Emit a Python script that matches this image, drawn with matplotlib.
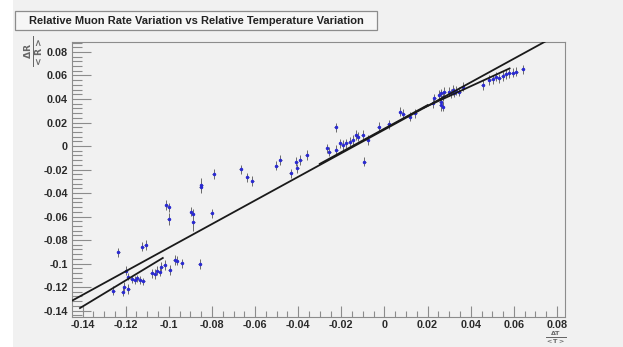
"""
relative muon rate variation vs relative temperature variation.
root-style scatter with error bars and fitted lines, redrawn in matplotlib.
"""
import matplotlib
matplotlib.use("Agg")
import matplotlib.pyplot as plt
from matplotlib.patches import Rectangle
from matplotlib.ticker import MultipleLocator, FuncFormatter
import numpy as np

TITLE = "Relative Muon Rate Variation vs Relative Temperature Variation"

# dT/<T>
dT = [
    -0.1258, -0.1214, -0.1207, -0.1188, -0.1235, -0.1199, -0.1188, -0.1173, -0.1157, -0.1147,
    -0.1134, -0.1119, -0.1124, -0.1106, -0.1080, -0.1065, -0.1057, -0.1042, -0.1034, -0.1019,
    -0.0995, -0.0972, -0.0964, -0.0941, -0.0856,
    -0.1011, -0.1000, -0.1000, -0.0895, -0.0890, -0.0887, -0.0853, -0.0849, -0.0802, -0.0792,
    -0.0667, -0.0636, -0.0614,
    -0.0501, -0.0483, -0.0435, -0.0409, -0.0404, -0.0390, -0.0360, -0.0227, -0.0265, -0.0255,
    -0.0224, -0.0205, -0.0193, -0.0177, -0.0162, -0.0147, -0.0131, -0.0124, -0.0100, -0.0093,
    -0.0077, -0.0026, 0.0019, 0.0073, 0.0088, 0.0116, 0.0142, 0.0224, 0.0262, 0.0270,
    0.0231, 0.0255, 0.0262, 0.0270, 0.0262, 0.0278, 0.0301, 0.0309, 0.0316, 0.0324,
    0.0332, 0.0347, 0.0363, 0.0455, 0.0486, 0.0501, 0.0517, 0.0532, 0.0548, 0.0563,
    0.0579, 0.0594, 0.0610, 0.0640,
]
# dR/<R>
dR = [
    -0.1231, -0.1240, -0.1197, -0.1217, -0.0905, -0.1060, -0.1112, -0.1134, -0.1140, -0.1126,
    -0.1140, -0.1149, -0.0857, -0.0843, -0.1083, -0.1089, -0.1061, -0.1070, -0.1027, -0.1013,
    -0.1055, -0.0970, -0.0976, -0.0999, -0.1004,
    -0.0502, -0.0522, -0.0621, -0.0559, -0.0579, -0.0649, -0.0352, -0.0332, -0.0573, -0.0238,
    -0.0198, -0.0266, -0.0298,
    -0.0166, -0.0119, -0.0233, -0.0133, -0.0190, -0.0119, -0.0077, 0.0159, -0.0020, -0.0048,
    -0.0034, 0.0023, 0.0009, 0.0023, 0.0037, 0.0051, 0.0094, 0.0079, 0.0094, -0.0133,
    0.0051, 0.0165, 0.0185, 0.0292, 0.0272, 0.0249, 0.0278, 0.0363, 0.0377, 0.0334,
    0.0406, 0.0434, 0.0449, 0.0420, 0.0349, 0.0462, 0.0462, 0.0449, 0.0477, 0.0454,
    0.0471, 0.0462, 0.0505, 0.0519, 0.0562, 0.0568, 0.0590, 0.0576, 0.0596, 0.0613,
    0.0619, 0.0624, 0.0632, 0.0653,
]
dR_err = [
    0.004, 0.004, 0.004, 0.004, 0.004, 0.004, 0.003, 0.003, 0.003, 0.003,
    0.003, 0.003, 0.004, 0.004, 0.004, 0.004, 0.004, 0.004, 0.004, 0.004,
    0.004, 0.004, 0.004, 0.004, 0.004,
    0.004, 0.004, 0.005, 0.004, 0.004, 0.007, 0.005, 0.006, 0.004, 0.004,
    0.004, 0.004, 0.004,
    0.004, 0.004, 0.004, 0.004, 0.004, 0.004, 0.004, 0.004, 0.004, 0.004,
    0.004, 0.004, 0.004, 0.004, 0.004, 0.004, 0.004, 0.004, 0.004, 0.004,
    0.004, 0.004, 0.004, 0.004, 0.004, 0.004, 0.004, 0.004, 0.004, 0.004,
    0.004, 0.004, 0.004, 0.004, 0.005, 0.004, 0.004, 0.004, 0.004, 0.004,
    0.004, 0.004, 0.004, 0.004, 0.004, 0.004, 0.004, 0.004, 0.004, 0.004,
    0.004, 0.004, 0.004, 0.004,
]
dT_err = 0.0007

# fitted lines: (slope, intercept, x_start, x_end)
FITS = [
    (1.005, 0.0140, -0.1449, 0.0850),
    (1.11, -0.1379 + 1.11 * 0.1412, -0.1412, -0.1028),
    (1.00, 0.0148, -0.0300, 0.0200),
    (0.84, 0.0660 - 0.84 * 0.0580, 0.0180, 0.0580),
]

XLIM = (-0.1449, 0.0837)
YLIM = (-0.1455, 0.0885)

BG = "#f1f1f1"
FRAME = "#8c8c8c"
TXT = "#2b2b2b"

plt.rcParams["font.family"] = ["Liberation Sans", "DejaVu Sans"]

fig = plt.figure(figsize=(6.23, 3.47), dpi=100)
fig.patch.set_facecolor("white")
fig.patches.append(Rectangle((13 / 623, 0), 1, 1, transform=fig.transFigure,
                             facecolor=BG, edgecolor="none", zorder=-10))

ax = fig.add_axes([72 / 623, 1 - 317 / 347, (565 - 72) / 623, (317 - 42) / 347])
ax.set_facecolor(BG)
ax.set_xlim(*XLIM)
ax.set_ylim(*YLIM)

ax.errorbar(dT, dR, yerr=dR_err, xerr=dT_err, fmt=".", color="#2a2ad0",
            markersize=3, ecolor="#6a6a6a", elinewidth=0.7, capsize=0, zorder=3)

for slope, icpt, xa, xb in FITS:
    xs = np.array([xa, xb])
    ax.plot(xs, slope * xs + icpt, color="#1a1a1a", lw=1.3, zorder=4)

for s in ax.spines.values():
    s.set_color(FRAME)
    s.set_linewidth(0.8)

ax.xaxis.set_major_locator(MultipleLocator(0.02))
ax.xaxis.set_minor_locator(MultipleLocator(0.005))
ax.yaxis.set_major_locator(MultipleLocator(0.02))
ax.yaxis.set_minor_locator(MultipleLocator(0.004))

fmt = FuncFormatter(lambda v, p: "0" if abs(v) < 1e-9 else f"{v:g}")
ax.xaxis.set_major_formatter(fmt)
ax.yaxis.set_major_formatter(fmt)

ax.tick_params(axis="x", which="major", direction="in", length=8, width=0.8, color=FRAME,
               labelsize=7.8, labelcolor=TXT, pad=2)
ax.tick_params(axis="x", which="minor", direction="in", length=4, width=0.8, color=FRAME)
ax.tick_params(axis="y", which="major", direction="in", length=14, width=0.8, color=FRAME,
               labelsize=7.8, labelcolor=TXT, pad=3)
ax.tick_params(axis="y", which="minor", direction="in", length=7, width=0.8, color=FRAME)
for lab in ax.get_xticklabels() + ax.get_yticklabels():
    lab.set_fontweight("bold")

# title box
fig.patches.append(Rectangle((15 / 623, 1 - 30 / 347), 362 / 623, 19 / 347,
                             transform=fig.transFigure, facecolor="#f6f6f6",
                             edgecolor=FRAME, lw=0.9, zorder=5))
fig.text(196 / 623, 1 - 21 / 347, TITLE, ha="center", va="center", fontsize=8,
         fontweight="bold", color="#222222", zorder=6)

# axis titles (root puts them at the ends of the axes)
fig.text(35 / 623, 1 - 51 / 347, r"$\mathbf{\frac{\Delta R}{<R>}}$", rotation=90,
         ha="center", va="center", fontsize=9.5, color="#666666")
fig.text(556 / 623, 1 - 346.5 / 347, r"$\mathbf{\frac{\Delta T}{<T>}}$",
         ha="center", va="bottom", fontsize=6.5, color="#666666")

fig.savefig("out.png", dpi=100, facecolor=fig.get_facecolor())
